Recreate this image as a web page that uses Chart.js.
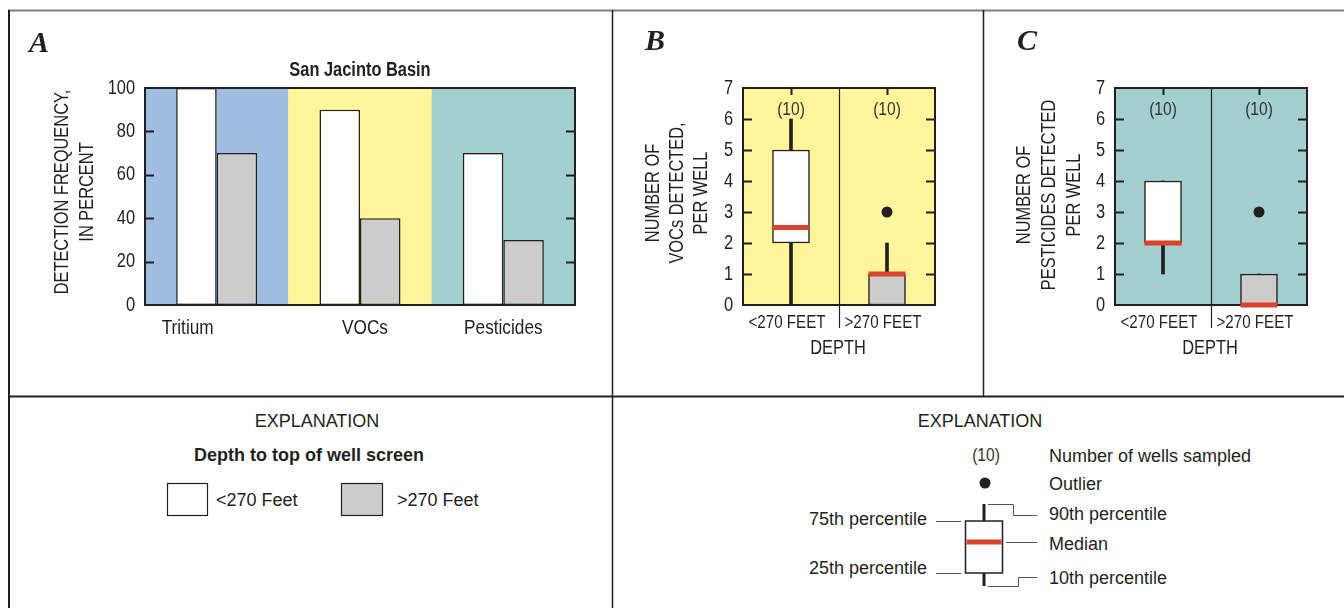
<!DOCTYPE html>
<html>
<head>
<meta charset="utf-8">
<title>San Jacinto Basin</title>
<script src="https://cdn.jsdelivr.net/npm/chart.js@4.4.1/dist/chart.umd.min.js"></script>
<style>
  body { margin: 0; background: #fff; }
  #pagina { position: relative; width: 1344px; height: 608px; overflow: hidden;
            font-family: 'Liberation Sans', Arial, sans-serif; color: #231f20; }
  canvas, svg, .txt { position: absolute; }
  .txt { white-space: nowrap; line-height: 1; font-size: 20px; }
  /* texto estreito (escala horizontal) */
  .cn { transform: translate(-50%, -50%) scaleX(0.82); }
  .rot { transform: translate(-50%, -50%) rotate(-90deg) scaleX(0.82); text-align: center; }
  .ce { transform: translate(-50%, -50%); font-size: 18px; }
  .le { transform: translate(0, -50%); font-size: 18px; }
  .re { transform: translate(-100%, -50%); font-size: 18px; }
  .letra { font-family: 'Liberation Serif', serif; font-weight: bold; font-style: italic; font-size: 30px;
           transform: translate(-50%, -50%); }
</style>
</head>
<body>
<div id="pagina">
  <svg width="1344" height="608">
    <!-- moldura dos quadros -->
    <line x1="8" y1="10.5" x2="1344" y2="10.5" stroke="#808080" stroke-width="2"/>
    <line x1="9" y1="10" x2="9" y2="608" stroke="#231f20" stroke-width="2"/>
    <line x1="612.5" y1="10" x2="612.5" y2="608" stroke="#231f20" stroke-width="1.5"/>
    <line x1="983.5" y1="10" x2="983.5" y2="397" stroke="#231f20" stroke-width="1.5"/>
    <line x1="8" y1="396.5" x2="1344" y2="396.5" stroke="#231f20" stroke-width="2"/>

    <!-- explicação das barras -->
    <rect x="167.5" y="483.5" width="40" height="32" fill="#fff" stroke="#231f20" stroke-width="1.2"/>
    <rect x="341.5" y="483.5" width="41" height="32" fill="#cccccc" stroke="#231f20" stroke-width="1.2"/>

    <!-- explicação do diagrama de caixa -->
    <circle cx="985" cy="483" r="5.5" fill="#231f20"/>
    <line x1="984" y1="504" x2="984" y2="521" stroke="#231f20" stroke-width="3"/>
    <line x1="984" y1="573" x2="984" y2="586" stroke="#231f20" stroke-width="3"/>
    <rect x="965.5" y="521" width="37" height="52" fill="#fff" stroke="#231f20" stroke-width="1.5"/>
    <rect x="966.5" y="539.5" width="35" height="5" fill="#d9432b"/>
    <g fill="none" stroke="#555" stroke-width="1">
      <polyline points="988,504.5 1013.5,504.5 1013.5,515.5 1037,515.5"/>
      <polyline points="988,586.5 1018.5,586.5 1018.5,577.5 1037,577.5"/>
      <line x1="936" y1="521.5" x2="961" y2="521.5"/>
      <line x1="936" y1="573.5" x2="961" y2="573.5"/>
      <line x1="1006" y1="542.5" x2="1037" y2="542.5"/>
    </g>
  </svg>

  <canvas id="graficoA" width="613" height="396" style="left:0;top:0"></canvas>
  <canvas id="graficoB" width="371" height="396" style="left:613px;top:0"></canvas>
  <canvas id="graficoC" width="360" height="396" style="left:984px;top:0"></canvas>

  <div class="txt letra" style="left:39px;top:42px">A</div>
  <div class="txt letra" style="left:655px;top:40px">B</div>
  <div class="txt letra" style="left:1027px;top:40px">C</div>

  <div class="txt cn" style="left:360px;top:69px;font-weight:bold">San Jacinto Basin</div>
  <div class="txt rot" style="left:74px;top:192px;line-height:25px">DETECTION FREQUENCY,<br>IN PERCENT</div>
  <div class="txt rot" style="left:676px;top:193px;line-height:24px">NUMBER OF<br>VOCs DETECTED,<br>PER WELL</div>
  <div class="txt rot" style="left:1048px;top:195px;line-height:25px">NUMBER OF<br>PESTICIDES DETECTED<br>PER WELL</div>
  <div class="txt cn" style="left:838px;top:347px">DEPTH</div>
  <div class="txt cn" style="left:1210px;top:347px">DEPTH</div>

  <div class="txt ce" style="left:317px;top:421px">EXPLANATION</div>
  <div class="txt ce" style="left:309px;top:455px;font-weight:bold">Depth to top of well screen</div>
  <div class="txt le" style="left:216px;top:500px">&lt;270 Feet</div>
  <div class="txt le" style="left:397px;top:500px">&gt;270 Feet</div>

  <div class="txt ce" style="left:980px;top:421px">EXPLANATION</div>
  <div class="txt cn" style="left:986px;top:454px;font-size:19px;color:#333">(10)</div>
  <div class="txt le" style="left:1049px;top:456px">Number of wells sampled</div>
  <div class="txt le" style="left:1049px;top:484px">Outlier</div>
  <div class="txt le" style="left:1049px;top:514px">90th percentile</div>
  <div class="txt le" style="left:1049px;top:544px">Median</div>
  <div class="txt le" style="left:1049px;top:578px">10th percentile</div>
  <div class="txt re" style="left:927px;top:519px">75th percentile</div>
  <div class="txt re" style="left:927px;top:568px">25th percentile</div>
</div>

<script>
// Frequência de detecção (%) por profundidade do topo do filtro
const categorias = ['Tritium', 'VOCs', 'Pesticides'];
const menos270 = [100, 90, 70];
const mais270 = [70, 40, 30];

// Diagramas de caixa: número de compostos detectados por poço
const profundidades = ['<270 FEET', '>270 FEET'];
const pocosAmostrados = [10, 10];

const vocP10 = [0, 0];
const vocP25 = [2, 0];
const vocMediana = [2.5, 1];
const vocP75 = [5, 1];
const vocP90 = [6, 2];
const vocOutlier = [null, 3];

const pestP10 = [1, 0];
const pestP25 = [2, 0];
const pestMediana = [2, 0];
const pestP75 = [4, 1];
const pestP90 = [4, 1];
const pestOutlier = [null, 3];

const corTexto = '#231f20';
const fonte = "'Liberation Sans', Arial, sans-serif";
Chart.defaults.font.family = fonte;
Chart.defaults.color = corTexto;
Chart.defaults.animation = false;

// texto condensado desenhado no canvas
function textoEstreito(ctx, s, x, y, tamanho, alinhar, cor) {
    ctx.save();
    ctx.font = tamanho + 'px ' + fonte;
    ctx.fillStyle = cor || corTexto;
    ctx.textAlign = alinhar;
    ctx.textBaseline = 'middle';
    ctx.translate(x, y);
    ctx.scale(0.82, 1);
    ctx.fillText(s, 0, 0);
    ctx.restore();
}

// fundo colorido, moldura, marcas internas e rótulos dos eixos
const moldura = {
    id: 'moldura',
    beforeDraw(chart, args, opts) {
        const { ctx, chartArea: a, scales: { x } } = chart;
        const meio = (x.getPixelForValue(1) - x.getPixelForValue(0)) / 2;
        ctx.save();
        opts.fundos.forEach((cor, i) => {
            const c = x.getPixelForValue(i);
            ctx.fillStyle = cor;
            ctx.fillRect(c - meio, a.top, 2 * meio, a.bottom - a.top);
        });
        ctx.restore();
    },
    beforeDatasetsDraw(chart, args, opts) {
        const { ctx, chartArea: a, scales: { x, y } } = chart;
        ctx.save();
        ctx.strokeStyle = corTexto;
        ctx.lineWidth = 2;
        ctx.strokeRect(a.left, a.top, a.right - a.left, a.bottom - a.top);
        ctx.beginPath();
        y.ticks.forEach(t => {
            const py = y.getPixelForValue(t.value);
            textoEstreito(ctx, t.label, a.left - 10, py, 20, 'right');
            if (t.value <= y.min || t.value >= y.max) return;
            const pl = Math.round(py) + 0.5;
            ctx.moveTo(a.left, pl); ctx.lineTo(a.left + 9, pl);
            ctx.moveTo(a.right, pl); ctx.lineTo(a.right - 9, pl);
        });
        ctx.stroke();
        opts.rotulos.forEach((r, i) => {
            textoEstreito(ctx, r, x.getPixelForValue(i) + opts.desloc[i], a.bottom + opts.yRotulo, opts.tamRotulo, 'center');
        });
        if (opts.caixas) {
            // marcas no topo e divisória entre as profundidades
            ctx.beginPath();
            x.ticks.forEach((t, i) => {
                const px = Math.round(x.getPixelForValue(i)) + 0.5;
                ctx.moveTo(px, a.top); ctx.lineTo(px, a.top + 7);
            });
            ctx.stroke();
            const div = Math.round(x.getPixelForValue(0.5)) + 0.5;
            ctx.lineWidth = 1.2;
            ctx.beginPath();
            ctx.moveTo(div, a.top); ctx.lineTo(div, a.bottom + 23);
            ctx.stroke();
            opts.contagens.forEach((n, i) => {
                textoEstreito(ctx, '(' + n + ')', x.getPixelForValue(i), a.top + 22, 19, 'center', '#333');
            });
        }
        ctx.restore();
    }
};

function eixoY(max, passo) {
    return {
        min: 0, max: max,
        ticks: { stepSize: passo, display: false },
        grid: { display: false, drawTicks: false },
        border: { display: false },
        afterFit: s => { s.width = 40; }
    };
}

// A - barras agrupadas
new Chart(document.getElementById('graficoA'), {
    type: 'bar',
    data: {
        labels: categorias,
        datasets: [
            { label: '<270 Feet', data: menos270, backgroundColor: '#ffffff' },
            { label: '>270 Feet', data: mais270, backgroundColor: '#cccccc' }
        ]
    },
    options: {
        responsive: false,
        layout: { padding: { left: 105, right: 38, top: 88, bottom: 91 } },
        datasets: {
            bar: { categoryPercentage: 0.565, barPercentage: 1, borderColor: corTexto, borderWidth: 1.5, borderSkipped: false }
        },
        scales: {
            x: { display: false },
            y: eixoY(100, 20)
        },
        plugins: {
            legend: { display: false },
            tooltip: { enabled: false },
            moldura: {
                fundos: ['#9fbde0', '#fff59b', '#a3cfcf'],
                rotulos: categorias,
                desloc: [-29, 5, 0],
                yRotulo: 23,
                tamRotulo: 21
            }
        }
    },
    plugins: [moldura]
});

function graficoCaixa(id, p10, p25, mediana, p75, p90, outlier, fundo, margemEsq, margemDir) {
    new Chart(document.getElementById(id), {
        type: 'bar',
        data: {
            labels: profundidades,
            datasets: [
                {
                    type: 'line', data: mediana, showLine: false, order: 0, clip: false,
                    pointStyle: 'line', pointRadius: 18.5, pointBorderWidth: 5,
                    pointBorderColor: '#d9432b', borderColor: '#d9432b'
                },
                {
                    type: 'line', data: outlier, showLine: false, order: 0,
                    pointStyle: 'circle', pointRadius: 5.5, pointBorderWidth: 0,
                    pointBackgroundColor: corTexto
                },
                {
                    data: p25.map((v, i) => [v, p75[i]]), order: 1, grouped: false,
                    backgroundColor: ['#ffffff', '#cccccc'], borderColor: corTexto,
                    borderWidth: 1.5, borderSkipped: false, barThickness: 37
                },
                {
                    data: p10.map((v, i) => [v, p25[i]]), order: 2, grouped: false,
                    backgroundColor: corTexto, borderWidth: 0, barThickness: 3
                },
                {
                    data: p75.map((v, i) => [v, p90[i]]), order: 2, grouped: false,
                    backgroundColor: corTexto, borderWidth: 0, barThickness: 3
                }
            ]
        },
        options: {
            responsive: false,
            layout: { padding: { left: margemEsq, right: margemDir, top: 88, bottom: 91 } },
            scales: {
                x: { display: false },
                y: eixoY(7, 1)
            },
            plugins: {
                legend: { display: false },
                tooltip: { enabled: false },
                moldura: {
                    fundos: [fundo, fundo],
                    caixas: true,
                    contagens: pocosAmostrados,
                    rotulos: profundidades,
                    desloc: [-4, -4],
                    yRotulo: 18,
                    tamRotulo: 18.5
                }
            }
        },
        plugins: [moldura]
    });
}

// B - VOCs ; C - pesticidas
graficoCaixa('graficoB', vocP10, vocP25, vocMediana, vocP75, vocP90, vocOutlier, '#fff59b', 90, 49);
graficoCaixa('graficoC', pestP10, pestP25, pestMediana, pestP75, pestP90, pestOutlier, '#a3cfcf', 91, 37);
</script>
</body>
</html>
